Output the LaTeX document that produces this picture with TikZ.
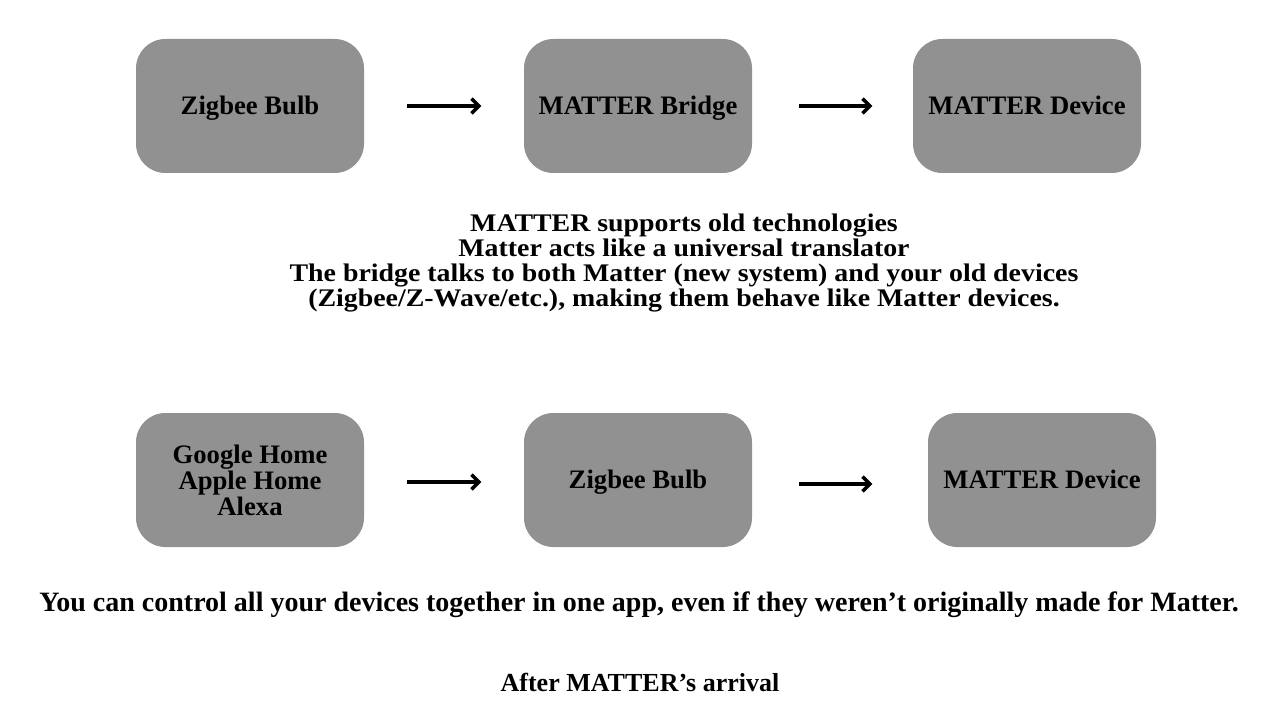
\documentclass[tikz,border=0pt]{standalone}
\usepackage{fontspec}
\setmainfont{Liberation Serif}
\newfontfamily\descfont[FakeStretch=1.1]{Liberation Serif}
\usetikzlibrary{arrows.meta}
\definecolor{boxgray}{HTML}{919191}
\newcommand{\tightlines}{\lineskiplimit=-30pt\relax\lineskip=0pt\relax}
\begin{document}
\begin{tikzpicture}[x=0.75pt,y=-0.75pt,
  card/.style={draw=none,fill=boxgray,rounded corners=22pt,minimum width=171pt,minimum height=100.5pt,inner sep=0pt,font=\bfseries\fontsize{20}{19.5}\selectfont,align=center},
  one/.style={text height=15pt,text depth=2pt},
  flow/.style={line width=3pt,-{Straight Barb[length=5.5pt,width=11pt,line width=2.6pt]}},
  txt/.style={font=\bfseries\fontsize{21}{18.75}\selectfont,align=center,inner sep=0pt},
  desc/.style={font=\descfont\bfseries\fontsize{19}{18.75}\selectfont\tightlines,align=center,inner sep=0pt}]
\useasboundingbox (0,0) rectangle (1280,720);
\node[card,one] (a1) at (250,106) {Zigbee Bulb};
\node[card,one] (a2) at (638,106) {MATTER Bridge};
\node[card,one] (a3) at (1027,106) {MATTER Device};
\draw[flow] (a1.east) ++(43,0) coordinate (s1) -- ++(74,0) coordinate (e1);
\draw[flow] (a2.east) ++(47,0) coordinate (s2) -- ++(73,0) coordinate (e2);
\node[desc] (desc) at (684,263) {MATTER supports old technologies\\Matter acts like a universal translator\\The bridge talks to both Matter (new system) and your old devices\\(Zigbee/Z-Wave/etc.), making them behave like Matter devices.};
\node[card] (b1) at (250,480) {Google Home\\Apple Home\\Alexa};
\node[card,one] (b2) at (638,480) {Zigbee Bulb};
\node[card,one] (b3) at (1042,480) {MATTER Device};
\draw[flow] (b1.east) ++(43,2) coordinate (s3) -- ++(74,0) coordinate (e3);
\draw[flow] (b2.east) ++(47,4) coordinate (s4) -- ++(73,0) coordinate (e4);
\node[txt] (ctrl) at (639,605) {You can control all your devices together in one app, even if they weren’t originally made for Matter.};
\node[txt,font=\bfseries\fontsize{19.5}{18.75}\selectfont] (after) at (640,682) {After MATTER’s arrival};
\end{tikzpicture}
\end{document}
